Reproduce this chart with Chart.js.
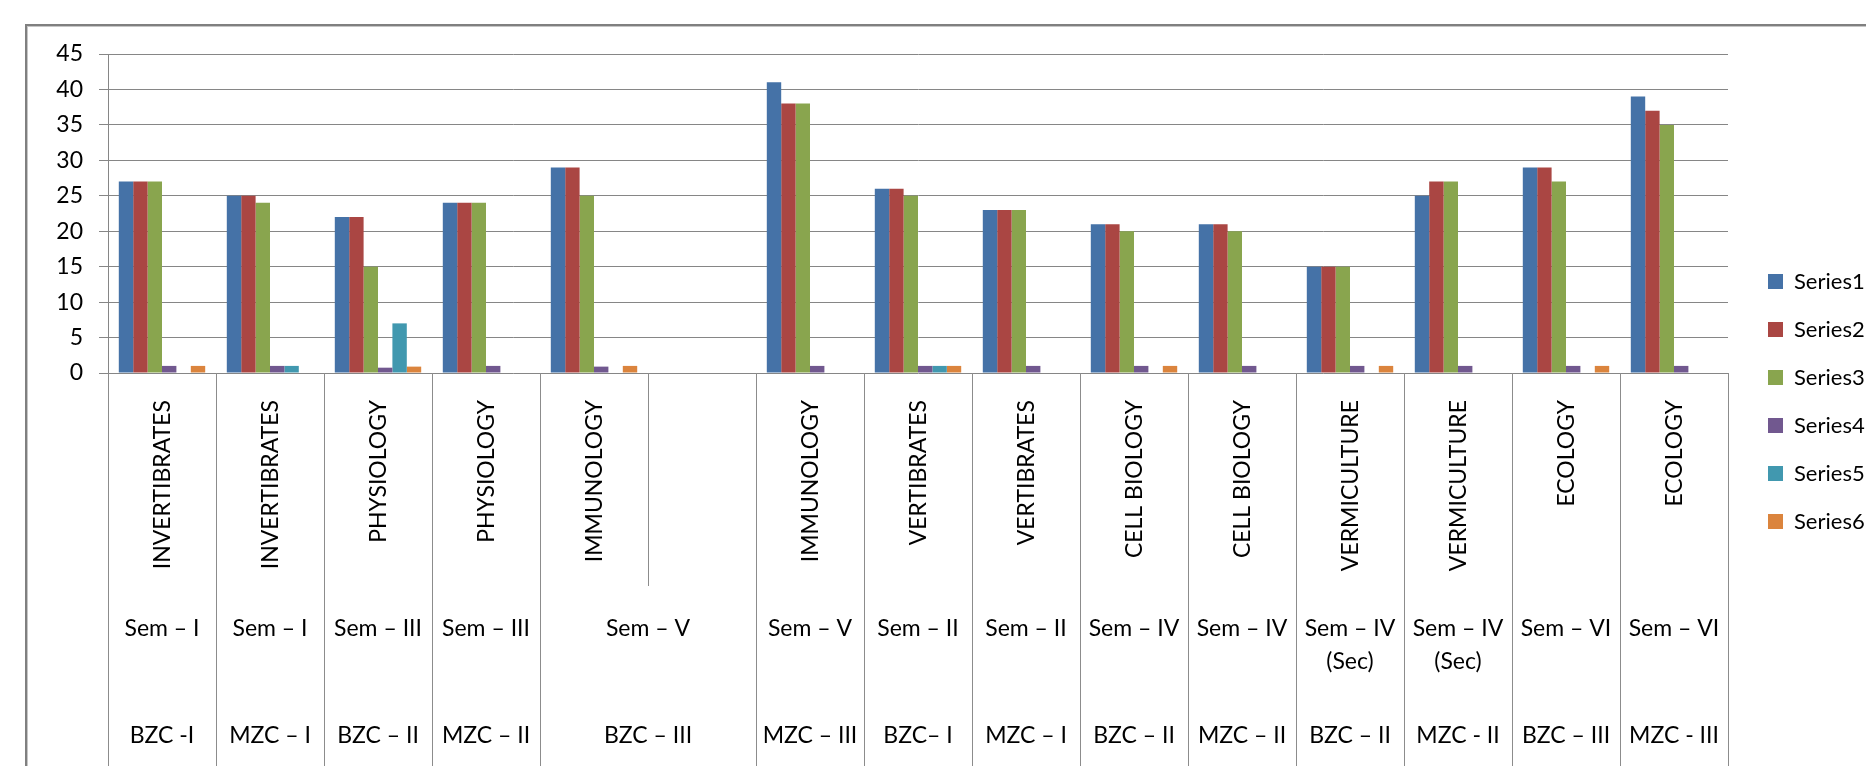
<!DOCTYPE html>
<html>
<head>
<meta charset="utf-8">
<title>Results by subject</title>
<script src="https://cdn.jsdelivr.net/npm/chart.js@4"></script>
<style>
  html, body { margin: 0; padding: 0; width: 1866px; height: 766px; overflow: hidden; background: #fff; }
  .frame { position: absolute; left: 25px; top: 24px; width: 2000px; height: 1000px; border: 2px solid #808080; box-shadow: inset 1px 1px 0 #c6c6c6; }
  #chart { position: absolute; left: 0; top: 0; }
</style>
</head>
<body>
<div class="frame"></div>
<canvas id="chart" width="1900" height="800"></canvas>
<script>
// category rows of the axis; null = cell merged with the one before it
const subjects = ["INVERTIBRATES", "INVERTIBRATES", "PHYSIOLOGY", "PHYSIOLOGY", "IMMUNOLOGY", "", "IMMUNOLOGY", "VERTIBRATES", "VERTIBRATES", "CELL BIOLOGY", "CELL BIOLOGY", "VERMICULTURE", "VERMICULTURE", "ECOLOGY", "ECOLOGY"];
const semesters = ["Sem – I", "Sem – I", "Sem – III", "Sem – III", "Sem – V", null, "Sem – V", "Sem – II", "Sem – II", "Sem – IV", "Sem – IV", "Sem – IV\n(Sec)", "Sem – IV\n(Sec)", "Sem – VI", "Sem – VI"];
const classes = ["BZC -I", "MZC – I", "BZC – II", "MZC – II", "BZC – III", null, "MZC – III", "BZC– I", "MZC – I", "BZC – II", "MZC – II", "BZC – II", "MZC - II", "BZC – III", "MZC - III"];

const series1 = [27, 25, 22, 24, 29, null, 41, 26, 23, 21, 21, 15, 25, 29, 39];
const series2 = [27, 25, 22, 24, 29, null, 38, 26, 23, 21, 21, 15, 27, 29, 37];
const series3 = [27, 24, 15, 24, 25, null, 38, 25, 23, 20, 20, 15, 27, 27, 35];
const series4 = [1, 1, 0.75, 1, 0.9, null, 1, 1, 1, 1, 1, 1, 1, 1, 1];
const series5 = [0, 1, 7, 0, 0, null, 0, 1, 0, 0, 0, 0, 0, 0, 0];
const series6 = [1, 0, 0.9, 0, 1, null, 0, 1, 0, 1, 0, 1, 0, 1, 0];

const seriesNames = ["Series1", "Series2", "Series3", "Series4", "Series5", "Series6"];
const seriesColors = ["#4572A7", "#AA4643", "#89A54E", "#71588F", "#4198AF", "#DB843D"];

Chart.defaults.font.family = "Lato, 'Liberation Sans', sans-serif";

const categoryRows = {
  id: "categoryRows",
  afterLayout: (chart) => {
    // legend sits a bit further from the plot than chart.js puts it,
    // and runs off the right edge like the original
    chart.legend.left += 14;
    chart.legend.right = chart.width;
  },
  afterDraw: (chart) => {
    const { ctx } = chart;
    const x = chart.scales.x;
    const top = x.top;
    const step = (x.right - x.left) / subjects.length;
    const edge = (i) => x.getPixelForValue(i) - step / 2;
    const rows = [subjects, semesters, classes];
    const rowTops = [top, top + 213, top + 319, chart.height];
    const half = 8.2; // half cap height of the label font

    ctx.save();
    ctx.strokeStyle = "#8c8c8c";
    ctx.lineWidth = 1;
    for (let i = 0; i <= subjects.length; i++) {
      const px = Math.round(edge(i)) + 0.5;
      rows.forEach((row, r) => {
        if (i < subjects.length && row[i] === null) return;
        ctx.beginPath();
        ctx.moveTo(px, rowTops[r]);
        ctx.lineTo(px, rowTops[r + 1]);
        ctx.stroke();
      });
    }

    ctx.fillStyle = "#000";
    ctx.font = "23px Lato";

    // first row: rotated subject names
    subjects.forEach((name, i) => {
      if (!name) return;
      ctx.save();
      ctx.translate(x.getPixelForValue(i), top + 27);
      ctx.rotate(-Math.PI / 2);
      ctx.textAlign = "right";
      ctx.textBaseline = "alphabetic";
      ctx.fillText(name, 0, half);
      ctx.restore();
    });

    // second and third row, merged cells centred over their span
    const textY = [top + 255, top + 362];
    [semesters, classes].forEach((row, r) => {
      ctx.textAlign = "center";
      ctx.textBaseline = "alphabetic";
      row.forEach((text, i) => {
        if (text === null) return;
        let span = 1;
        while (row[i + span] === null) span++;
        const cx = (edge(i) + edge(i + span)) / 2;
        text.split("\n").forEach((line, j) => {
          ctx.fillText(line, cx, textY[r] + j * 33 + half);
        });
      });
    });
    ctx.restore();
  },
};

const seriesValues = [series1, series2, series3, series4, series5, series6];

new Chart(document.getElementById("chart"), {
  type: "bar",
  data: {
    labels: subjects,
    datasets: seriesValues.map((values, i) => ({
      label: seriesNames[i],
      data: values,
      backgroundColor: seriesColors[i],
      borderWidth: 0,
      categoryPercentage: 0.8,
      barPercentage: 1,
    })),
  },
  options: {
    responsive: false,
    animation: false,
    layout: { padding: { top: 54, right: 62, bottom: 51, left: 0 } },
    plugins: {
      legend: {
        position: "right",
        maxWidth: 110,
        labels: { boxWidth: 15, boxHeight: 15, padding: 26, color: "#000", font: { size: 22 } },
      },
      tooltip: { enabled: false },
    },
    scales: {
      x: {
        ticks: { display: false },
        grid: { display: false },
        border: { display: false },
        afterFit: (scale) => {
          scale.height = 376;
        },
      },
      y: {
        min: 0,
        max: 45,
        ticks: { stepSize: 5, padding: 16, color: "#000", font: { size: 23 } },
        grid: { color: "#868686", tickLength: 9 },
        border: { color: "#868686" },
        afterFit: (scale) => {
          scale.width = 108;
        },
      },
    },
  },
  plugins: [categoryRows],
});
</script>
</body>
</html>
